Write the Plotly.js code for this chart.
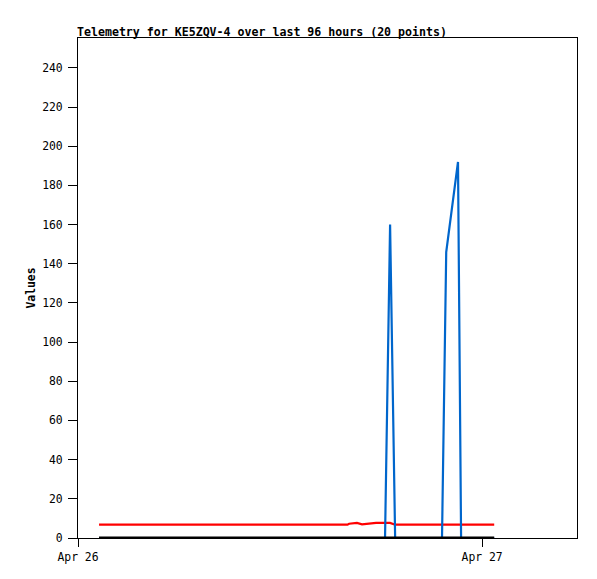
<!DOCTYPE html>
<html>
<head>
<meta charset="utf-8">
<script src="https://cdn.plot.ly/plotly-3.0.1.min.js"></script>
<style>html,body{margin:0;padding:0;background:#fff;}#chart{width:597px;height:579px;}</style>
</head>
<body>
<div id="chart"></div>
<script>
const times = [
  '2024-04-26 01:15', '2024-04-26 04:00', '2024-04-26 07:00', '2024-04-26 10:00',
  '2024-04-26 13:00', '2024-04-26 16:00', '2024-04-26 16:06', '2024-04-26 16:34',
  '2024-04-26 16:52', '2024-04-26 17:06', '2024-04-26 17:42', '2024-04-26 18:14',
  '2024-04-26 18:32', '2024-04-26 18:50', '2024-04-26 20:00', '2024-04-26 21:37',
  '2024-04-26 21:52', '2024-04-26 22:34', '2024-04-26 22:45', '2024-04-27 00:43'
];
const redValues   = [6.8, 6.8, 6.8, 6.8, 6.8, 6.8, 7.3, 7.7, 7.0, 7.3, 7.7, 7.7, 7.7, 6.8, 6.8, 6.8, 6.8, 6.8, 6.8, 6.8];
const blueValues  = [0, 0, 0, 0, 0, 0, 0, 0, 0, 0, 0, 0, 160, 0, 0, 0, 146, 192, 0, 0];
const blackValues = [0, 0, 0, 0, 0, 0, 0, 0, 0, 0, 0, 0, 0, 0, 0, 0, 0, 0, 0, 0];
const xTickVals = ['2024-04-26 00:00', '2024-04-27 00:00'];
const xTickText = ['Apr 26', 'Apr 27'];
const yTickVals = [0, 20, 40, 60, 80, 100, 120, 140, 160, 180, 200, 220, 240];

const font = 'DejaVu Sans Mono, monospace';
const fs = 11.4;
const traces = [
  {x: times, y: redValues, type: 'scatter', mode: 'lines', line: {color: '#ff0000', width: 2.2}, hoverinfo: 'skip'},
  {x: times, y: blueValues, type: 'scatter', mode: 'lines', line: {color: '#0066cc', width: 2.2}, hoverinfo: 'skip'},
  {x: times, y: blackValues, type: 'scatter', mode: 'lines', line: {color: '#000000', width: 3}, hoverinfo: 'skip', cliponaxis: false}
];
const layout = {
  width: 597, height: 579,
  margin: {l: 78, r: 20, t: 38, b: 41},
  paper_bgcolor: '#ffffff', plot_bgcolor: '#ffffff',
  showlegend: false,
  font: {family: font, size: fs, color: '#000'},
  title: {text: '<b>Telemetry for KE5ZQV-4 over last 96 hours (20 points)</b>', x: 0, xref: 'paper', xanchor: 'left', y: 1, yref: 'paper', yanchor: 'bottom', pad: {b: 2, l: -1}, font: {family: font, size: 11.6, color: '#000'}},
  xaxis: {
    type: 'date', range: ['2024-04-26 00:00', '2024-04-27 05:38'],
    tickmode: 'array', tickvals: xTickVals, ticktext: xTickText,
    ticks: 'outside', ticklen: 8, tickcolor: '#000', tickwidth: 1,
    showgrid: false, zeroline: false, showline: true, linecolor: '#000', linewidth: 1, mirror: true,
    tickfont: {family: font, size: fs, color: '#000'}, fixedrange: true
  },
  yaxis: {
    range: [0, 255.3], tickmode: 'array', tickvals: yTickVals,
    ticks: 'outside', ticklen: 9, tickcolor: '#000', tickwidth: 1, ticklabelstandoff: 3,
    showgrid: false, zeroline: false, showline: true, linecolor: '#000', linewidth: 1, mirror: true,
    tickfont: {family: font, size: fs, color: '#000'},
    title: {text: '<b>Values</b>', standoff: 4, font: {family: font, size: fs, color: '#000'}},
    fixedrange: true
  }
};
Plotly.newPlot('chart', traces, layout, {staticPlot: true, displayModeBar: false});
</script>
</body>
</html>
